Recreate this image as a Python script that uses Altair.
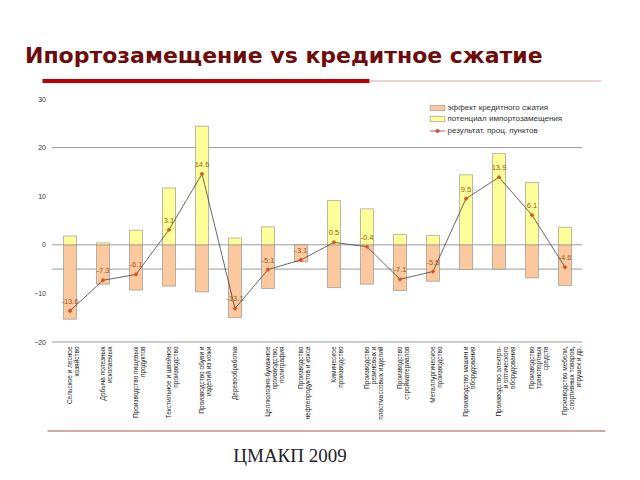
import altair as alt
import pandas as pd

categories = [
    "Сельское и лесное|хозяйство",
    "Добыча полезных|ископаемых",
    "Производство пищевых|продуктов",
    "Текстильное и швейное|производство",
    "Производство обуви и|изделий из кожи",
    "Деревообработка",
    "Целлюлозно-бумажное|производство,|полиграфия",
    "Производство|нефтепродуктов и кокса",
    "Химическое|производство",
    "Производство|резиновых и|пластмассовых изделий",
    "Производство|стройматериалов",
    "Металлургическое|производство",
    "Производство машин и|оборудования",
    "Производство электро-|и оптического|оборудования",
    "Производство|транспортных|средств",
    "Производство мебели,|спортивных товаров,|игрушек и др.",
]
credit_effect = [-15.3, -8.1, -9.3, -8.5, -9.7, -15.0, -9.0, -3.5, -8.8, -8.1, -9.4, -7.5, -5.1, -5.0, -6.8, -8.4]
substitution = [1.8, 0.4, 3.0, 11.7, 24.4, 1.4, 3.7, 0.0, 9.1, 7.4, 2.1, 1.9, 14.4, 18.8, 12.8, 3.6]
result = [-13.6, -7.3, -6.1, 3.1, 14.6, -13.1, -5.1, -3.1, 0.5, -0.4, -7.1, -5.5, 9.5, 13.9, 6.1, -4.6]
series_names = ["эффект кредитного сжатия", "потенциал импортозамещения"]
series_colors = ["#fcc89e", "#ffff99"]
line_name = "результат. проц. пунктов"
grid_values = [20, 0, -5, -20]
y_ticks = list(range(-20, 35, 5))
title_text = "Ипортозамещение vs кредитное сжатие"
footer_text = "ЦМАКП 2009"

rows = []
for c, a, b in zip(categories, credit_effect, substitution):
    rows.append({"cat": c, "series": series_names[0], "value": a})
    if b != 0:
        rows.append({"cat": c, "series": series_names[1], "value": b})
bars_df = pd.DataFrame(rows)
line_df = pd.DataFrame({"cat": categories, "value": result, "lname": line_name,
                        "label": [f"{v:.1f}" for v in result]})
grid_df = pd.DataFrame({"v": grid_values})

W, H = 528, 243
xenc = alt.X("cat:N", sort=categories, title=None,
             scale=alt.Scale(paddingInner=0, paddingOuter=0),
             axis=alt.Axis(labelExpr="split(datum.label, '|')", labelAngle=270,
                           labelAlign="right", labelBaseline="middle",
                           labelFontSize=6.5, labelLineHeight=7, labelPadding=4,
                           labelLimit=0, labelColor="#222", ticks=False, domain=False,
                           labelFont="Liberation Sans"))
yscale = alt.Scale(domain=[-20, 30], nice=False, zero=False)

grid = alt.Chart(grid_df).mark_rule(color="#9a9a9a", strokeWidth=1).encode(
    y=alt.Y("v:Q", scale=yscale,
            axis=alt.Axis(values=y_ticks, grid=False, domain=False, ticks=False,
                          labelFontSize=7, labelColor="#333", labelPadding=8,
                          labelFont="Liberation Sans", title=None)),
    x=alt.value(-1.5), x2=alt.value(W + 0.5),
)

bars = alt.Chart(bars_df).mark_bar(size=13, stroke="#8a8a8a", strokeWidth=0.6).encode(
    x=xenc,
    y=alt.Y("value:Q", scale=yscale, stack=None),
    fill=alt.Fill("series:N", scale=alt.Scale(domain=series_names, range=series_colors),
                  legend=alt.Legend(title=None, orient="none", legendX=378, legendY=3,
                                    symbolType="M-1.4,-0.5H1.4V0.5H-1.4Z", symbolSize=110,
                                    symbolStrokeColor="#888", symbolStrokeWidth=0.6,
                                    labelFontSize=8, labelColor="#333", rowPadding=1,
                                    padding=0, labelOffset=4, labelFont="Liberation Sans")),
)

line = alt.Chart(line_df).mark_line(color="#404040", strokeWidth=0.8).encode(
    x=alt.X("cat:N", sort=categories),
    y=alt.Y("value:Q", scale=yscale),
    strokeDash=alt.StrokeDash("lname:N", scale=alt.Scale(domain=[line_name], range=[[6, 0]]),
                              legend=alt.Legend(title=None, orient="none", legendX=378, legendY=26,
                                                symbolType="M-1.4,0H1.4M-0.3,0A0.3,0.3,0,1,1,0.3,0A0.3,0.3,0,1,1,-0.3,0Z",
                                                symbolSize=110, symbolStrokeColor="#c0504d",
                                                symbolFillColor="#d9541e", symbolStrokeWidth=1,
                                                labelFontSize=8, labelColor="#333", padding=0,
                                                labelOffset=4, labelFont="Liberation Sans")),
)

points = alt.Chart(line_df).mark_point(shape="diamond", filled=True, color="#d9541e", size=22, opacity=1).encode(
    x=alt.X("cat:N", sort=categories),
    y=alt.Y("value:Q", scale=yscale),
)

labels = alt.Chart(line_df).mark_text(dy=-9, fontSize=7.5, color="#9a5a14", font="Liberation Sans").encode(
    x=alt.X("cat:N", sort=categories),
    y=alt.Y("value:Q", scale=yscale),
    text="label:N",
)

ann = pd.DataFrame({"t": [title_text]})
title = alt.Chart(ann).mark_text(align="left", baseline="alphabetic", font="DejaVu Sans",
                                 fontWeight="bold", fontSize=22, color="#6e0b0b").encode(
    x=alt.value(-28.5), y=alt.value(-36), text="t:N")
red_bar = alt.Chart(ann).mark_rule(color="#c00000", strokeWidth=4).encode(
    x=alt.value(-11), x2=alt.value(316), y=alt.value(-18))
thin_line = alt.Chart(ann).mark_rule(color="#e3a5a5", strokeWidth=1).encode(
    x=alt.value(316), x2=alt.value(548), y=alt.value(-18))
bottom_line = alt.Chart(ann).mark_rule(color="#d2aa9c", strokeWidth=2).encode(
    x=alt.value(-6), x2=alt.value(552), y=alt.value(332))
footer = alt.Chart(pd.DataFrame({"t": [footer_text]})).mark_text(
    align="center", baseline="alphabetic", font="Liberation Serif", fontSize=19, color="#222").encode(
    x=alt.value(236.5), y=alt.value(363), text="t:N")

chart = alt.layer(grid, bars, line, points, labels, title, red_bar, thin_line, bottom_line, footer).properties(
    width=W, height=H,
    autosize=alt.AutoSizeParams(type="none"),
    padding={"left": 45.5, "top": 91, "right": 40, "bottom": 130},
).resolve_scale(y="shared").configure(background="white", view=alt.ViewConfig(stroke=None))

chart.save("out.html", embed_options={"renderer": "svg", "actions": False})
